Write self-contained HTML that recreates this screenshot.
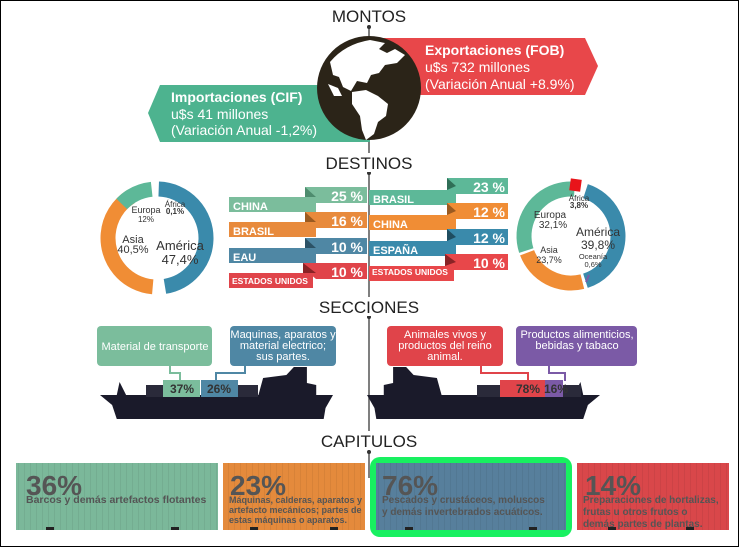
<!DOCTYPE html>
<html><head><meta charset="utf-8"><style>
html,body{margin:0;padding:0;background:#fff}
svg{display:block}
text{font-family:"Liberation Sans",sans-serif}
</style></head><body>
<svg width="739" height="547" viewBox="0 0 739 547" xmlns="http://www.w3.org/2000/svg">
<rect x="0.5" y="0.5" width="738" height="546" fill="#fff" stroke="#000" stroke-width="1"/>
<line x1="369" y1="27" x2="369" y2="478" stroke="#555" stroke-width="1.5"/>
<circle cx="369" cy="27" r="2" fill="#333"/><circle cx="369" cy="173" r="2" fill="#333"/><circle cx="369" cy="317" r="2" fill="#333"/><circle cx="369" cy="452" r="2" fill="#333"/>
<g font-size="17" fill="#222" text-anchor="middle">
<rect x="328" y="6" width="82" height="19" fill="#fff"/><text x="369" y="22">MONTOS</text>
<rect x="320" y="153" width="98" height="19" fill="#fff"/><text x="369" y="169">DESTINOS</text>
<rect x="312" y="297" width="114" height="19" fill="#fff"/><text x="369" y="313">SECCIONES</text>
<rect x="316" y="431" width="106" height="19" fill="#fff"/><text x="369" y="447">CAPITULOS</text>
</g>
<!-- montos -->
<polygon points="375,38 585,38 598,66 585,95 375,95" fill="#e8474a"/>
<polygon points="160,85 370,85 370,142 160,142 148,113" fill="#4db38f"/>
<circle cx="369" cy="88" r="52" fill="#2b2418"/>
<g fill="#fff">
<path d="M330,62 q15,-18 40,-22 l15,3 -6,6 8,4 8,-4 10,6 -8,8 -12,2 -6,8 -8,2 -4,8 -10,-2 -6,10 -8,-4 -4,-10 -6,-2 z"/>
<path d="M352,92 l14,-2 12,6 10,8 -2,12 -8,6 -4,12 -8,6 -4,-10 -2,-14 -8,-12 z"/>
<path d="M328,84 l10,4 4,8 -8,0 z"/>
</g>
<g fill="#fff" font-size="14">
<text x="425" y="55" font-weight="bold">Exportaciones (FOB)</text>
<text x="425" y="72">u$s 732 millones</text>
<text x="425" y="89">(Variación Anual +8.9%)</text>
<text x="171" y="102" font-weight="bold">Importaciones (CIF)</text>
<text x="171" y="119">u$s 41 millones</text>
<text x="171" y="135">(Variación Anual -1,2%)</text>
</g>
<!-- left donut -->
<g fill="none" stroke-width="15">
<circle cx="157" cy="238" r="49" stroke="#3a8aab" stroke-dasharray="144 400" transform="rotate(-88 157 238)"/>
<circle cx="157" cy="238" r="49" stroke="#f08d35" stroke-dasharray="122 400" transform="rotate(95 157 238)"/>
<circle cx="157" cy="238" r="49" stroke="#5db898" stroke-dasharray="34 400" transform="rotate(-136 157 238)"/>
</g>
<g fill="#333" text-anchor="middle">
<text x="175" y="207" font-size="8">África</text><text x="175" y="214" font-size="8" font-weight="bold">0,1%</text>
<text x="146" y="213" font-size="9">Europa</text><text x="146" y="222" font-size="8">12%</text>
<text x="133" y="243" font-size="11">Asia</text><text x="133" y="253" font-size="11">40,5%</text>
<text x="180" y="250" font-size="13">América</text><text x="180" y="264" font-size="13">47,4%</text>
</g>
<!-- left bars -->
<g font-weight="bold" fill="#fff">
<polygon points="305,187 367,187 367,203 316,203 305,192" fill="#7bbd9c"/><rect x="229" y="197" width="87" height="15" fill="#7bbd9c"/><polygon points="305,187 316,197 305,197" fill="#4e8c6e"/>
<text x="363" y="201" text-anchor="end" font-size="14">25 %</text><text x="233" y="210" font-size="11">CHINA</text>
<polygon points="305,212 367,212 367,228 316,228 305,217" fill="#e88a3c"/><rect x="229" y="222" width="87" height="15" fill="#e88a3c"/><polygon points="305,212 316,222 305,222" fill="#9b5a20"/>
<text x="363" y="226" text-anchor="end" font-size="14">16 %</text><text x="233" y="235" font-size="11">BRASIL</text>
<polygon points="305,238 367,238 367,254 316,254 305,243" fill="#4f87a4"/><rect x="229" y="248" width="87" height="15" fill="#4f87a4"/><polygon points="305,238 316,248 305,248" fill="#2c5266"/>
<text x="363" y="252" text-anchor="end" font-size="14">10 %</text><text x="233" y="261" font-size="11">EAU</text>
<polygon points="303,263 367,263 367,279 316,279 303,268" fill="#e0444a"/><rect x="229" y="273" width="84" height="15" fill="#e0444a"/><polygon points="303,263 316,273 303,273" fill="#8a2326"/>
<text x="363" y="277" text-anchor="end" font-size="14">10 %</text><text x="232" y="284" font-size="8.5">ESTADOS UNIDOS</text>
</g>
<!-- right bars -->
<g font-weight="bold" fill="#fff">
<rect x="447" y="178" width="61" height="16" fill="#5db898"/><rect x="369" y="190" width="87" height="15" fill="#5db898"/><polygon points="447,178 456,186 447,190" fill="#2f6e56"/>
<text x="505" y="192" text-anchor="end" font-size="14">23 %</text><text x="373" y="203" font-size="11">BRASIL</text>
<rect x="447" y="203" width="61" height="16" fill="#f08d35"/><rect x="369" y="215" width="87" height="15" fill="#f08d35"/><polygon points="447,203 456,211 447,215" fill="#9b5a20"/>
<text x="505" y="217" text-anchor="end" font-size="14">12 %</text><text x="373" y="228" font-size="11">CHINA</text>
<rect x="447" y="229" width="61" height="16" fill="#3a8aab"/><rect x="369" y="241" width="87" height="15" fill="#3a8aab"/><polygon points="447,229 456,237 447,241" fill="#1f4d60"/>
<text x="505" y="243" text-anchor="end" font-size="14">12 %</text><text x="373" y="254" font-size="11">ESPAÑA</text>
<rect x="445" y="254" width="63" height="16" fill="#e8474a"/><rect x="369" y="266" width="85" height="15" fill="#e8474a"/><polygon points="445,254 456,262 445,266" fill="#8a2326"/>
<text x="505" y="268" text-anchor="end" font-size="14">10 %</text><text x="372" y="275" font-size="8.5">ESTADOS UNIDOS</text>
</g>
<!-- right donut -->
<g fill="none" stroke-width="15">
<circle cx="571" cy="236" r="47" stroke="#3a8aab" stroke-dasharray="118 400" transform="rotate(-72 571 236)"/>
<circle cx="571" cy="236" r="47" stroke="#f08d35" stroke-dasharray="68 400" transform="rotate(76 571 236)"/>
<circle cx="571" cy="236" r="47" stroke="#5db898" stroke-dasharray="92 400" transform="rotate(162 571 236)"/>
</g>
<rect x="570" y="179" width="11" height="12" fill="#e8141a" transform="rotate(8 575 185)"/>
<line x1="589" y1="275" x2="586" y2="282" stroke="#7b5aa6" stroke-width="2"/>
<g fill="#333" text-anchor="middle">
<text x="579" y="201" font-size="8">África</text><text x="579" y="208" font-size="8" font-weight="bold">3,8%</text>
<text x="550" y="218" font-size="10">Europa</text><text x="553" y="228" font-size="10">32,1%</text>
<text x="598" y="236" font-size="12">América</text><text x="598" y="249" font-size="12">39,8%</text>
<text x="549" y="253" font-size="9">Asia</text><text x="549" y="263" font-size="9">23,7%</text>
<text x="593" y="259" font-size="7.5">Oceanía</text><text x="593" y="267" font-size="7.5">0,6%</text>
</g>
<!-- secciones boxes -->
<rect x="97" y="326" width="115" height="40" rx="4" fill="#7bbd9c"/>
<rect x="230" y="326" width="106" height="40" rx="4" fill="#4f87a4"/>
<rect x="387" y="326" width="116" height="40" rx="4" fill="#e0444a"/>
<rect x="516" y="326" width="121" height="40" rx="4" fill="#7b5aa6"/>
<g fill="#fff" font-size="11" text-anchor="middle" font-family="DejaVu Sans">
<text x="155" y="350">Material de transporte</text>
<text x="283" y="338">Maquinas, aparatos y</text><text x="283" y="349">material electrico;</text><text x="283" y="360">sus partes.</text>
<text x="445" y="338">Animales vivos y</text><text x="445" y="349">productos del reino</text><text x="445" y="360">animal.</text>
<text x="577" y="338">Productos alimenticios,</text><text x="577" y="349">bebidas y tabaco</text>
</g>
<polyline points="170,366 170,373 180,373 180,381" fill="none" stroke="#7bbd9c" stroke-width="2"/>
<polyline points="245,366 245,373 216,373 216,381" fill="none" stroke="#4f87a4" stroke-width="2"/>
<polyline points="481,366 481,373 528,373 528,381" fill="none" stroke="#e0444a" stroke-width="2"/>
<polyline points="549,366 549,373 565,373 565,381" fill="none" stroke="#7b5aa6" stroke-width="2"/>
<!-- ships -->
<g fill="#1a1a2a">
<path transform="translate(100,0) scale(0.932,1) translate(-100,0)" d="M100,395 L118,395 L121,382 L128,395 L270,395 L275,378 L300,375 L308,367 L322,367 L322,383 L332,385 L332,395 L350,395 L342,408 L340,419 L118,419 L113,405 Z"/>
<path transform="translate(367,0) scale(0.932,1) translate(-389,0)" d="M639,395 L621,395 L618,382 L611,395 L469,395 L464,378 L439,375 L431,367 L417,367 L417,383 L407,385 L407,395 L389,395 L397,408 L399,419 L621,419 L626,405 Z"/>
</g>
<g fill="#2a2a3a"><rect x="146" y="385" width="17" height="12"/><rect x="238" y="385" width="20" height="12"/><rect x="477" y="385" width="23" height="12"/><rect x="563" y="385" width="18" height="12"/></g>
<rect x="163" y="380" width="37" height="17" fill="#7bbd9c"/><rect x="201" y="380" width="37" height="17" fill="#4f87a4"/>
<rect x="500" y="380" width="45" height="17" fill="#e0444a"/><rect x="545" y="380" width="18" height="17" fill="#7b5aa6"/>
<g font-weight="bold" font-size="12" fill="#333" text-anchor="middle">
<text x="182" y="393">37%</text><text x="219" y="393">26%</text><text x="528" y="393">78%</text><text x="556" y="393">16%</text>
</g>
<!-- containers -->
<defs><pattern id="rib" width="6" height="10" patternUnits="userSpaceOnUse"><rect x="0" width="1" height="10" fill="rgba(0,0,0,0.06)"/></pattern></defs>
<rect x="370" y="457" width="202" height="80" rx="10" fill="#18f060"/>
<rect x="16" y="463" width="202" height="67" fill="#7bb89a"/><rect x="16" y="463" width="202" height="67" fill="url(#rib)"/>
<rect x="223" y="463" width="142" height="67" fill="#e48a3c"/><rect x="223" y="463" width="142" height="67" fill="url(#rib)"/>
<rect x="376" y="463" width="190" height="67" fill="#577f9c"/><rect x="376" y="463" width="190" height="67" fill="url(#rib)"/>
<rect x="577" y="463" width="152" height="67" fill="#d9474a"/><rect x="577" y="463" width="152" height="67" fill="url(#rib)"/>
<g fill="#222"><rect x="46" y="527" width="8" height="3"/><rect x="171" y="527" width="8" height="3"/><rect x="250" y="527" width="8" height="3"/><rect x="330" y="527" width="8" height="3"/><rect x="405" y="527" width="8" height="3"/><rect x="529" y="527" width="8" height="3"/><rect x="608" y="527" width="8" height="3"/><rect x="686" y="527" width="8" height="3"/></g>
<g fill="#555" font-weight="bold">
<text x="26" y="495" font-size="28">36%</text><text x="26" y="503" font-size="10.5">Barcos y demás artefactos flotantes</text>
<text x="230" y="495" font-size="28">23%</text>
<text x="229" y="503" font-size="9">Máquinas, calderas, aparatos y</text><text x="229" y="513" font-size="9">artefacto mecánicos; partes de</text><text x="229" y="523" font-size="9">estas máquinas o aparatos.</text>
<text x="382" y="495" font-size="28">76%</text>
<text x="382" y="503" font-size="10">Pescados y crustáceos, moluscos</text><text x="382" y="515" font-size="10">y demás invertebrados acuáticos.</text>
<text x="585" y="495" font-size="28">14%</text>
<text x="583" y="503" font-size="10">Preparaciones de hortalizas,</text><text x="583" y="515" font-size="10">frutas u otros frutos o</text><text x="583" y="527" font-size="10">demás partes de plantas.</text>
</g>
</svg>
</body></html>
